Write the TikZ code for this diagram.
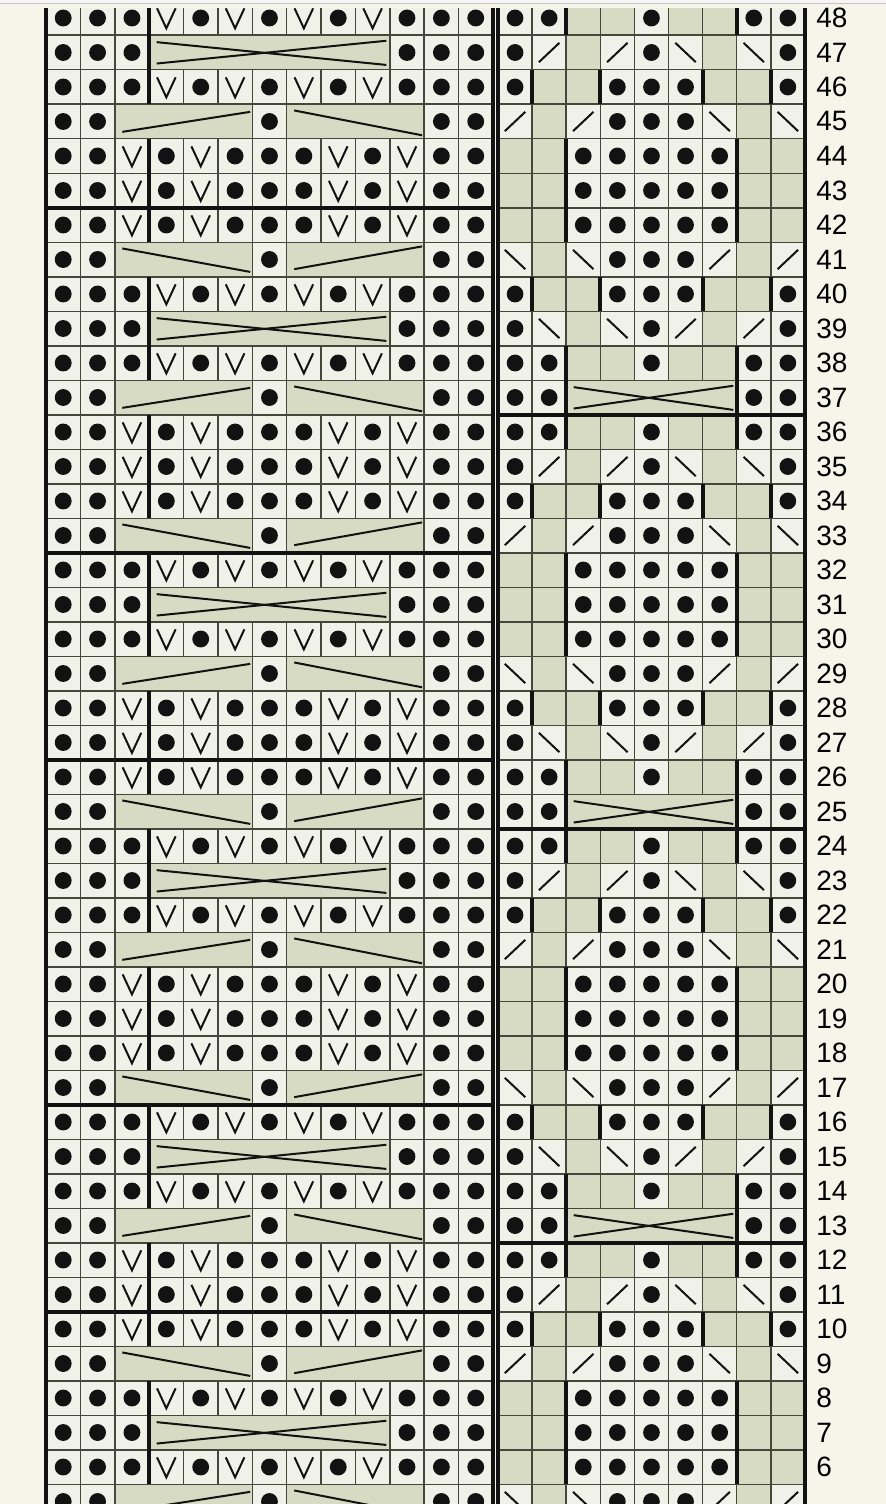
\documentclass[tikz,border=0pt]{standalone}
\usepackage{fontspec}
\setmainfont{Liberation Sans}
\usepackage{xcolor}
\usepackage{tikz}
\definecolor{paper}{HTML}{F6F5EA}
\definecolor{cellgreen}{HTML}{D8DBC4}
\definecolor{celllight}{HTML}{F0F1E8}
\definecolor{gridline}{HTML}{45473A}
\definecolor{ink}{HTML}{121212}
\definecolor{chrome}{HTML}{C4C4C4}

% one cell of a chart: column, row index (0 = row 48)
\newcommand{\stitche}[2]{\draw[plain] (#1-1,#2) rectangle (#1,#2+1);}
\newcommand{\stitchd}[2]{\draw[lite] (#1-1,#2) rectangle (#1,#2+1);
  \fill[ink] (#1-0.5,#2+0.5) circle (0.245);}
\newcommand{\stitchv}[2]{\draw[lite] (#1-1,#2) rectangle (#1,#2+1);
  \draw[vline] (#1-0.77,#2+0.22) -- (#1-0.5,#2+0.8) -- (#1-0.23,#2+0.22);}
\newcommand{\stitchs}[2]{\draw[lite] (#1-1,#2) rectangle (#1,#2+1);
  \draw[slash] (#1-0.8,#2+0.78) -- (#1-0.2,#2+0.22);}
\newcommand{\stitchb}[2]{\draw[lite] (#1-1,#2) rectangle (#1,#2+1);
  \draw[slash] (#1-0.8,#2+0.22) -- (#1-0.2,#2+0.78);}
\newcommand{\stitchrow}[2]{\foreach \c/\t in {#2}{\csname stitch\t\endcsname{\c}{#1}}}
% merged cells
\newcommand{\cablex}[3]{\draw[plain] (#1-1,#3) rectangle (#2,#3+1);
  \draw[cable] (#1-0.78,#3+0.2) -- (#2-0.1,#3+0.86);
  \draw[cable] (#1-0.78,#3+0.82) -- (#2-0.1,#3+0.16);}
\newcommand{\cableslant}[5]{\draw[plain] (#1-1,#3) rectangle (#2,#3+1);
  \draw[cable] (#1-0.78,#3+#4) -- (#2-0.06,#3+#5);}
\newcommand{\bars}[2]{\foreach \k in {#2}{\draw[heavy] (\k,#1) -- (\k,#1+1);}}

% left chart rows
\newcommand{\leftA}[1]{\stitchrow{#1}{1/d,2/d,3/d,4/v,5/d,6/v,7/d,8/v,9/d,10/v,11/d,12/d,13/d}}
\newcommand{\leftX}[1]{\stitchrow{#1}{1/d,2/d,3/d,11/d,12/d,13/d}\cablex{4}{10}{#1}}
\newcommand{\leftW}[1]{\stitchrow{#1}{1/d,2/d,3/v,4/d,5/v,6/d,7/d,8/d,9/v,10/d,11/v,12/d,13/d}}
\newcommand{\leftU}[1]{\stitchrow{#1}{1/d,2/d,7/d,12/d,13/d}%
  \cableslant{3}{6}{#1}{0.8}{0.22}\cableslant{8}{11}{#1}{0.18}{0.9}}
\newcommand{\leftN}[1]{\stitchrow{#1}{1/d,2/d,7/d,12/d,13/d}%
  \cableslant{3}{6}{#1}{0.18}{0.86}\cableslant{8}{11}{#1}{0.78}{0.12}}

% right chart rows
\newcommand{\rightP}[1]{\stitchrow{#1}{1/d,2/d,3/e,4/e,5/d,6/e,7/e,8/d,9/d}}
\newcommand{\rightQ}[1]{\stitchrow{#1}{1/d,2/s,3/e,4/s,5/d,6/b,7/e,8/b,9/d}}
\newcommand{\rightR}[1]{\stitchrow{#1}{1/d,2/e,3/e,4/d,5/d,6/d,7/e,8/e,9/d}}
\newcommand{\rightS}[1]{\stitchrow{#1}{1/s,2/e,3/s,4/d,5/d,6/d,7/b,8/e,9/b}}
\newcommand{\rightT}[1]{\stitchrow{#1}{1/e,2/e,3/d,4/d,5/d,6/d,7/d,8/e,9/e}}
\newcommand{\rightU}[1]{\stitchrow{#1}{1/b,2/e,3/b,4/d,5/d,6/d,7/s,8/e,9/s}}
\newcommand{\rightV}[1]{\stitchrow{#1}{1/d,2/b,3/e,4/b,5/d,6/s,7/e,8/s,9/d}}
\newcommand{\rightX}[1]{\stitchrow{#1}{1/d,2/d,8/d,9/d}\cablex{3}{7}{#1}}

\begin{document}
\begin{tikzpicture}[
  x=0.5pt, y=-0.5pt,
  plain/.style={draw=gridline, fill=cellgreen, line width=0.75pt},
  lite/.style={draw=gridline, fill=celllight, line width=0.75pt},
  vline/.style={draw=ink, line width=1pt},
  slash/.style={draw=ink, line width=1pt},
  cable/.style={draw=ink, line width=1pt},
  heavy/.style={draw=ink, line width=1.9pt},
  rowlabel/.style={anchor=west, inner sep=0pt, text=black, font=\fontsize{14pt}{14pt}\selectfont}
]
\useasboundingbox (0,0) rectangle (886,1504);
\fill[paper] (0,0) rectangle (886,1504);
\fill[white!96!black] (0,0) rectangle (886,3);
\draw[chrome, line width=0.6pt] (0,3.3) -- (886,3.3);

\begin{scope}
\clip (0,9) rectangle (886,1504);
% left chart, 13 stitches
\begin{scope}[shift={(46,0.75)}, x=17.19pt, y=-17.25pt]
\foreach \i in {0,...,43}{%
  \pgfmathtruncatemacro{\m}{mod(\i,8)}%
  \ifcase\m\relax \leftA{\i}\or \leftX{\i}\or \leftA{\i}\or \leftU{\i}\or
    \leftW{\i}\or \leftW{\i}\or \leftW{\i}\or \leftN{\i}\fi}
\foreach \i in {0,...,43}{%
  \pgfmathtruncatemacro{\m}{mod(\i,8)}%
  \ifnum\m=3 \else\ifnum\m=7 \else\bars{\i}{3}\fi\fi}
\foreach \a/\b in {0/6,6/16,16/22,22/32,32/38,38/48}
  \draw[heavy] (0,\a) rectangle (13,\b);
\end{scope}
% right chart, 9 stitches
\begin{scope}[shift={(498,0.75)}, x=17.05pt, y=-17.25pt]
\foreach \i in {0,...,43}{%
  \pgfmathtruncatemacro{\m}{mod(\i,12)}%
  \ifcase\m\relax \rightP{\i}\or \rightQ{\i}\or \rightR{\i}\or \rightS{\i}\or
    \rightT{\i}\or \rightT{\i}\or \rightT{\i}\or \rightU{\i}\or
    \rightR{\i}\or \rightV{\i}\or \rightP{\i}\or \rightX{\i}\fi}
\foreach \i in {0,...,43}{%
  \pgfmathtruncatemacro{\m}{mod(\i,12)}%
  \ifcase\m\relax \bars{\i}{2,7}\or\or \bars{\i}{1,3,6,8}\or\or
    \bars{\i}{2,7}\or \bars{\i}{2,7}\or \bars{\i}{2,7}\or\or
    \bars{\i}{1,3,6,8}\or\or \bars{\i}{2,7}\or \bars{\i}{2,7}\fi}
\foreach \a in {0,12,24,36}
  \draw[heavy] (0,\a) rectangle (9,\a+12);
\end{scope}
\end{scope}

% row numbers
\foreach \r in {6,...,48}
  \node[rowlabel] (lab\r) at (816,{18+(48-\r)*34.5}) {\r};
\end{tikzpicture}
\end{document}
